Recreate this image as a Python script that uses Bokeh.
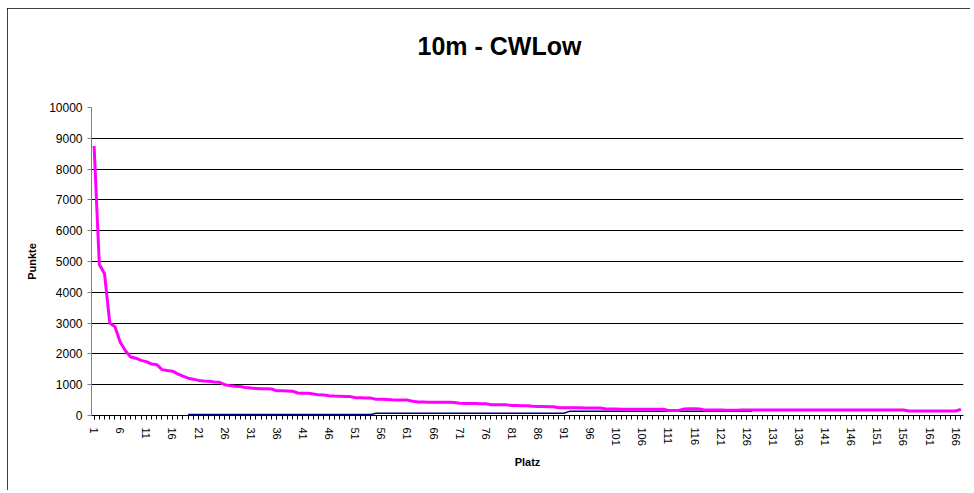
from bokeh.plotting import figure
from bokeh.models import FixedTicker, Range1d, Title
from bokeh.embed import file_html
from bokeh.resources import INLINE

NaN = float("nan")

platz = list(range(1, 168))

punkte_1 = [
    8750, 4900, 4600, 3000, 2880, 2380, 2100, 1900, 1860, 1790,
    1750, 1670, 1650, 1490, 1460, 1440, 1350, 1280, 1210, 1180,
    1140, 1120, 1110, 1090, 1080, 1000, 970, 950, 940, 910,
    890, 880, 870, 865, 860, 800, 800, 795, 790, 730,
    725, 720, 700, 670, 665, 640, 630, 625, 620, 615,
    580, 575, 570, 565, 530, 525, 520, 510, 505, 505,
    500, 460, 435, 435, 430, 430, 430, 430, 428, 425,
    395, 390, 390, 388, 385, 385, 350, 348, 345, 345,
    325, 323, 320, 320, 300, 292, 290, 288, 285, 250,
    250, 250, 248, 248, 247, 246, 245, 245, 210, 208,
    207, 206, 205, 205, 204, 204, 203, 202, 201, 200,
    165, 162, 165, 215, 218, 218, 215, 175, 175, 175,
    175, 174, 174, 174, 182, 182, 182, 182, 182, 182,
    181, 181, 181, 181, 181, 181, 181, 181, 180, 180,
    180, 180, 180, 180, 180, 180, 180, 180, 180, 180,
    180, 180, 180, 180, 180, 180, 145, 145, 145, 145,
    145, 145, 145, 145, 145, 145, 200,
]

punkte_2 = [
    NaN, NaN, NaN, NaN, NaN, NaN, NaN, NaN, NaN, NaN,
    NaN, NaN, NaN, NaN, NaN, NaN, NaN, NaN, 30, 30,
    30, 30, 30, 30, 30, 30, 30, 30, 30, 30,
    30, 30, 30, 30, 30, 30, 30, 30, 30, 30,
    30, 30, 30, 30, 30, 30, 30, 30, 30, 30,
    30, 30, 30, 30, 75, 75, 75, 75, 75, 75,
    75, 75, 75, 75, 75, 75, 75, 75, 75, 75,
    75, 75, 75, 75, 75, 75, 75, 75, 75, 75,
    75, 75, 75, 75, 75, 75, 75, 75, 75, 75,
    75, 135, 135, 135, 135, 135, 135, 135, 135, 135,
    135, 135, 135, 135, 135, 135, 135, 135, 135, 135,
    135, 135, 135, 135, 135, 135, 135, 135, 135, 135,
    135, 135, 135, 135, 135, 135, 135, NaN, NaN, NaN,
    NaN, NaN, NaN, NaN, NaN, NaN, NaN, NaN, NaN, NaN,
    NaN, NaN, NaN, NaN, NaN, NaN, NaN, NaN, NaN, NaN,
    NaN, NaN, NaN, NaN, NaN, NaN, NaN, NaN, NaN, NaN,
    NaN, NaN, NaN, NaN, NaN, NaN, NaN,
]

y_ticks = [0, 1000, 2000, 3000, 4000, 5000, 6000, 7000, 8000, 9000, 10000]
x_label_ticks = [1, 6, 11, 16, 21, 26, 31, 36, 41, 46, 51, 56, 61, 66, 71, 76, 81,
                 86, 91, 96, 101, 106, 111, 116, 121, 126, 131, 136, 141, 146,
                 151, 156, 161, 166]

FONT = "Liberation Sans"

p = figure(width=963, height=482, output_backend="svg", toolbar_location=None,
           title=None,
           x_range=Range1d(0.5, 167.5), y_range=Range1d(0, 10000),
           min_border_left=84, min_border_right=7, min_border_top=98,
           min_border_bottom=75)
p.styles = {"outline": "1.5px solid black", "outline-offset": "-1.5px",
            "margin-left": "7px", "margin-top": "8px"}
p.background_fill_color = "white"
p.border_fill_color = "white"
p.outline_line_color = None

# spacer between title and plot area
p.add_layout(Title(text=" ", text_font_size="1px", standoff=24), "above")
p.add_layout(Title(text="10m - CWLow", align="left", offset=326, text_font=FONT,
                   text_font_size="25px", text_font_style="bold",
                   text_color="black", standoff=42), "above")

p.line(platz, punkte_2, line_color="#000080", line_width=1.5)
p.line(platz, punkte_1, line_color="#FF00FF", line_width=3)

# y axis
p.yaxis.ticker = FixedTicker(ticks=y_ticks)
p.yaxis.minor_tick_line_color = None
p.yaxis.axis_line_color = "#808080"
p.yaxis.major_tick_line_color = "#808080"
p.yaxis.major_tick_out = 4
p.yaxis.major_tick_in = 0
p.yaxis.major_label_text_font = FONT
p.yaxis.major_label_text_font_size = "12px"
p.yaxis.major_label_text_color = "black"
p.yaxis.major_label_standoff = 5
p.yaxis.axis_label = "Punkte"
p.yaxis.axis_label_text_font = FONT
p.yaxis.axis_label_text_font_size = "11px"
p.yaxis.axis_label_text_font_style = "bold"
p.yaxis.axis_label_text_color = "black"
p.yaxis.axis_label_standoff = 8

# x axis
p.xaxis.ticker = FixedTicker(ticks=x_label_ticks, minor_ticks=platz)
p.xaxis.axis_line_color = "black"
p.xaxis.major_tick_line_color = "black"
p.xaxis.minor_tick_line_color = "black"
p.xaxis.major_tick_out = 4
p.xaxis.major_tick_in = 0
p.xaxis.minor_tick_out = 4
p.xaxis.minor_tick_in = 0
p.xaxis.major_label_orientation = "vertical"
p.xaxis.major_label_text_font = FONT
p.xaxis.major_label_text_font_size = "11px"
p.xaxis.major_label_text_color = "black"
p.xaxis.major_label_standoff = 8
p.xaxis.axis_label = "Platz"
p.xaxis.axis_label_text_font = FONT
p.xaxis.axis_label_text_font_size = "11px"
p.xaxis.axis_label_text_font_style = "bold"
p.xaxis.axis_label_text_color = "black"
p.xaxis.axis_label_standoff = 7

p.xgrid.grid_line_color = None
p.ygrid.ticker = FixedTicker(ticks=y_ticks)
p.ygrid.grid_line_color = "black"
p.ygrid.grid_line_width = 1

open("out.html", "w").write(file_html(p, INLINE))
